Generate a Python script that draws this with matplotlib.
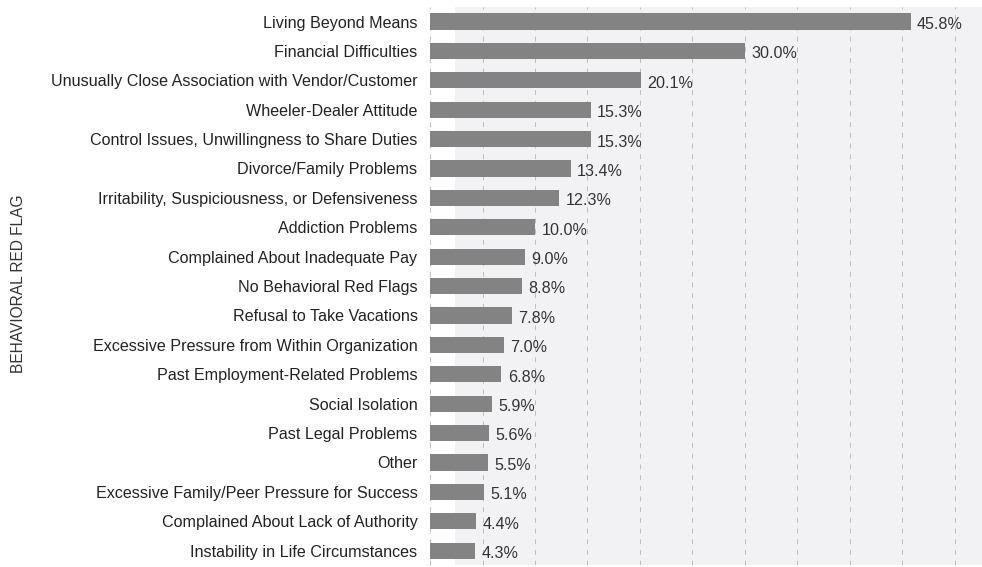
import matplotlib.pyplot as plt
import numpy as np

plt.rcParams['font.family'] = ['Liberation Sans', 'DejaVu Sans']

flags = [
    "Living Beyond Means",
    "Financial Difficulties",
    "Unusually Close Association with Vendor/Customer",
    "Wheeler-Dealer Attitude",
    "Control Issues, Unwillingness to Share Duties",
    "Divorce/Family Problems",
    "Irritability, Suspiciousness, or Defensiveness",
    "Addiction Problems",
    "Complained About Inadequate Pay",
    "No Behavioral Red Flags",
    "Refusal to Take Vacations",
    "Excessive Pressure from Within Organization",
    "Past Employment-Related Problems",
    "Social Isolation",
    "Past Legal Problems",
    "Other",
    "Excessive Family/Peer Pressure for Success",
    "Complained About Lack of Authority",
    "Instability in Life Circumstances",
]
pct = [45.8, 30.0, 20.1, 15.3, 15.3, 13.4, 12.3, 10.0, 9.0, 8.8,
       7.8, 7.0, 6.8, 5.9, 5.6, 5.5, 5.1, 4.4, 4.3]

fig = plt.figure(figsize=(9.82, 5.67), dpi=100)
ax = fig.add_axes([0.438, 0.003, 0.562, 0.985])

y = np.arange(len(flags))
ax.axvspan(2.4, 60, color='#f2f2f4', zorder=0, lw=0)
for gx in np.arange(0, 55, 5):
    ax.axvline(gx, color='#bdbdbd', lw=0.7, ls=(0, (5, 6)), zorder=1)

ax.barh(y, pct, height=0.55, color='#838383', zorder=2)
for yi, v in zip(y, pct):
    ax.text(v + 0.6, yi + 0.1, f"{v:.1f}%", va='center', ha='left',
            fontsize=11.6, color='#333333')

ax.set_yticks(y)
ax.set_yticklabels(flags, fontsize=11.6, color='#222222')
ax.tick_params(axis='y', length=0, pad=9)
ax.set_xticks([])
ax.set_xlim(0, 52.6)
ax.set_ylim(len(flags) - 0.5, -0.5)
for s in ax.spines.values():
    s.set_visible(False)

fig.text(0.019, 0.5, "BEHAVIORAL RED FLAG", rotation=90, va='center',
         ha='center', fontsize=11.2, color='#333333')

fig.savefig('out.png', dpi=100)
